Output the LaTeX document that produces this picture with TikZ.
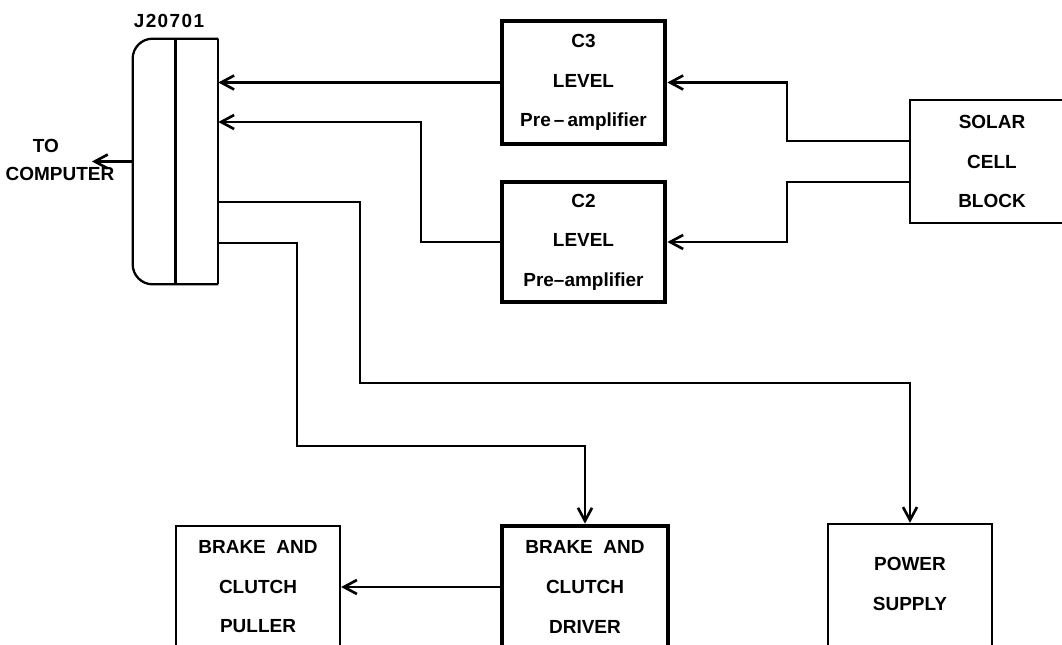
\documentclass[tikz,border=0pt]{standalone}
\usepackage{fontspec}
\setmainfont{Liberation Sans}
\usetikzlibrary{arrows.meta}
\tikzset{
  lbl/.style={font=\bfseries\fontsize{10.8}{22.5}\selectfont, align=center, inner sep=0pt},
  thinbox/.style={draw, line width=1.3pt, rectangle, inner sep=0pt, lbl},
  thickbox/.style={draw, line width=2.7pt, rectangle, inner sep=0pt, lbl},
  conn/.style={line width=1.3pt},
  arr/.style={conn, -{Straight Barb[length=2.6mm,width=2.8mm,line width=1.5pt]}},
}
\begin{document}
\begin{tikzpicture}[x=0.02cm,y=-0.02cm]
\useasboundingbox (0,0) rectangle (1062,645);
\fill[white] (0,0) rectangle (1062,645);
\clip (0,0) rectangle (1062,645);

% connector J20701
\node[rectangle, minimum width=1.7cm, minimum height=4.9cm, inner sep=0pt] (J) at (175.5,161.5) {};
\draw[conn, rounded corners=0.4cm] (J.south east) -- (J.south west) -- (J.north west) -- (J.north east);
\draw[conn] (J.north east) -- (J.south east);
\draw[conn] (J.north) -- (J.south);
\node[lbl] (jlabel) at (169,21) {J\kern0.8pt 2\kern0.8pt 0\kern0.8pt 7\kern0.8pt 0\kern0.8pt 1};

% to computer
\coordinate (comp) at (92,161.5);
\draw[arr] (J.west) -- (comp);
\node[lbl] (to) at (46,146) {TO};
\node[lbl] (computer) at (60,174) {COMPUTER};

% boxes
\node[thickbox, minimum width=3.26cm, minimum height=2.46cm] (c3) at (583.5,82.5) {C3\\LEVEL\\Pre\,–\,amplifier};
\node[thickbox, minimum width=3.26cm, minimum height=2.4cm] (c2) at (583.5,242) {C2\\LEVEL\\Pre–amplifier};
\node[thinbox, minimum width=3.28cm, minimum height=2.46cm] (solar) at (992,161.5) {SOLAR\\CELL\\BLOCK};
\node[thinbox, minimum width=3.28cm, minimum height=2.44cm] (puller) at (258,587) {BRAKE\ \ AND\\CLUTCH\\PULLER};
\node[thickbox, minimum width=3.32cm, minimum height=2.44cm] (drv) at (585,587) {BRAKE\ \ AND\\CLUTCH\\DRIVER};
\node[thinbox, minimum width=3.28cm, minimum height=2.6cm] (ps) at (910,589) {};
\node[lbl] (pstext) at ([yshift=0.1cm]ps.center) {POWER\\SUPPLY};

% connectors
\draw[arr] (c3.west) -- (J.east |- c3.west);
\draw[arr] (c2.west) -- (421,242) -- (421,122) -- (J.east |- 0,122);
\draw[arr] (solar.west |- 0,141) -- (787,141) |- (c3.east);
\draw[arr] (solar.west |- 0,182) -- (787,182) |- (c2.east);
\draw[arr] (J.east |- 0,202) -- (360,202) -- (360,383) -| (ps.north);
\draw[arr] (J.east |- 0,243) -- (297,243) -- (297,446) -| (drv.north);
\draw[arr] (drv.west) -- (puller.east);
\end{tikzpicture}
\end{document}
